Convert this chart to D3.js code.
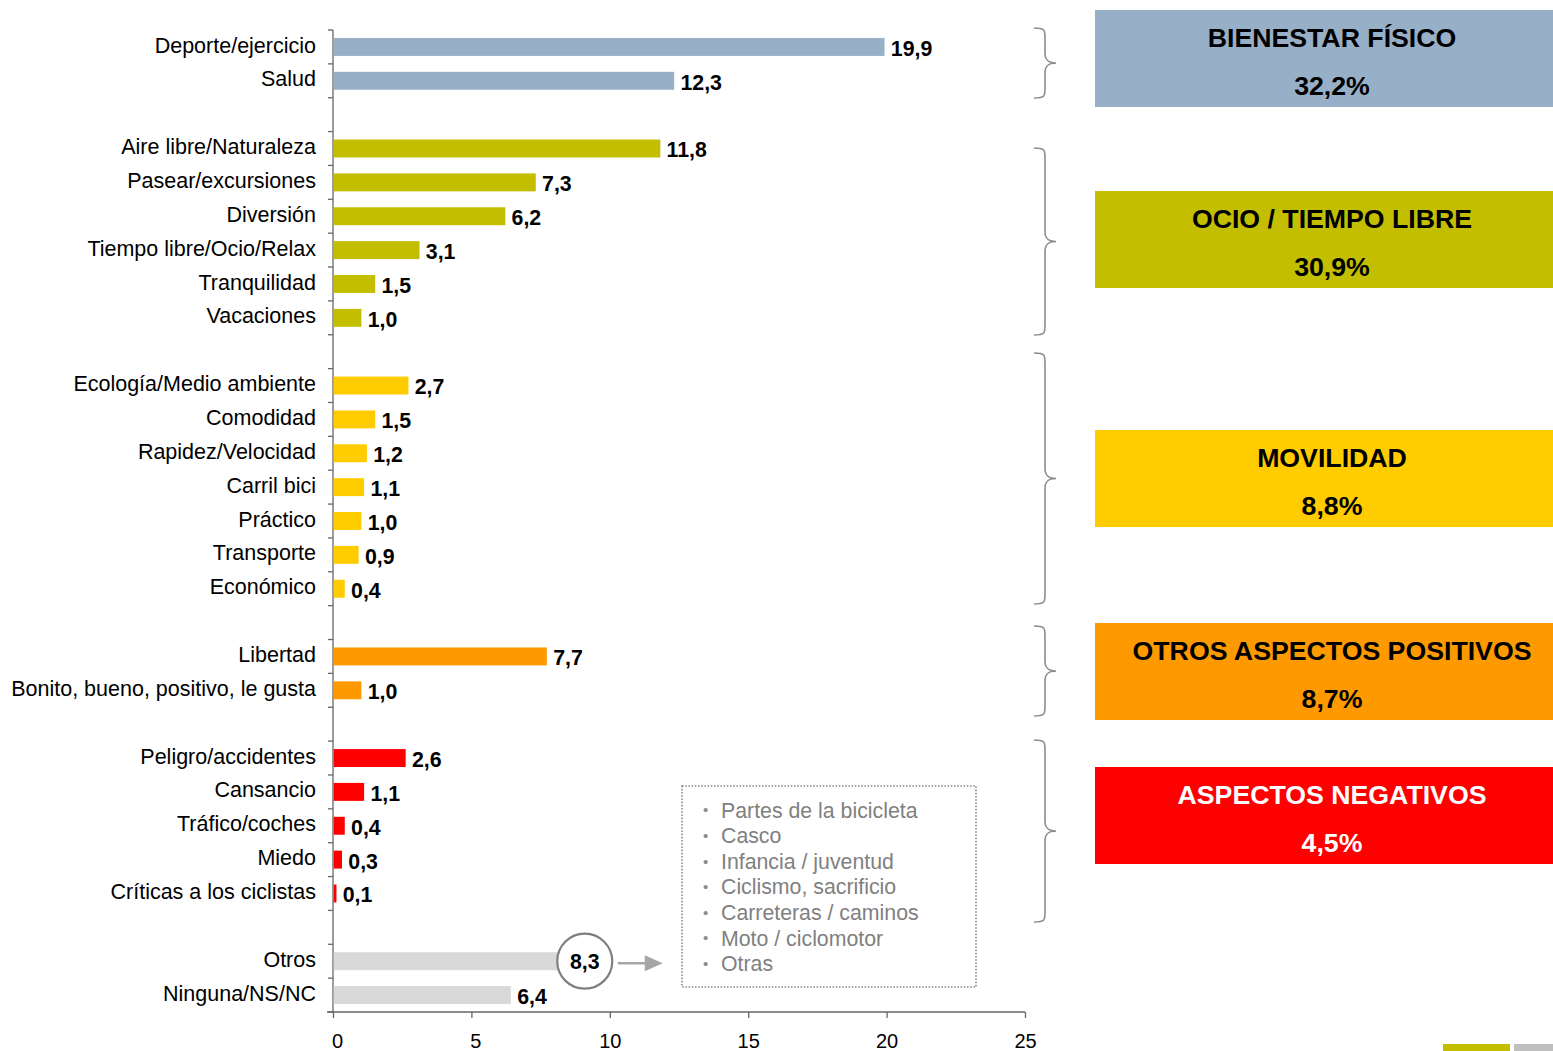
<!DOCTYPE html>
<html>
<head>
<meta charset="utf-8">
<script src="https://cdn.jsdelivr.net/npm/d3@7"></script>
<style>
  html, body { margin: 0; padding: 0; background: #fff; }
  svg { display: block; font-family: "Liberation Sans", Arial, sans-serif; }
</style>
</head>
<body>
<svg id="chart" width="1553" height="1051"></svg>
<script>
// ---------- DATA ----------
const categories = [
  "Deporte/ejercicio", "Salud",
  "Aire libre/Naturaleza", "Pasear/excursiones", "Diversión", "Tiempo libre/Ocio/Relax", "Tranquilidad", "Vacaciones",
  "Ecología/Medio ambiente", "Comodidad", "Rapidez/Velocidad", "Carril bici", "Práctico", "Transporte", "Económico",
  "Libertad", "Bonito, bueno, positivo, le gusta",
  "Peligro/accidentes", "Cansancio", "Tráfico/coches", "Miedo", "Críticas a los ciclistas",
  "Otros", "Ninguna/NS/NC"
];
const values = [
  19.9, 12.3,
  11.8, 7.3, 6.2, 3.1, 1.5, 1.0,
  2.7, 1.5, 1.2, 1.1, 1.0, 0.9, 0.4,
  7.7, 1.0,
  2.6, 1.1, 0.4, 0.3, 0.1,
  8.3, 6.4
];
const groupOf = [
  0, 0,
  1, 1, 1, 1, 1, 1,
  2, 2, 2, 2, 2, 2, 2,
  3, 3,
  4, 4, 4, 4, 4,
  5, 5
];
const groupNames = ["BIENESTAR FÍSICO", "OCIO / TIEMPO LIBRE", "MOVILIDAD", "OTROS ASPECTOS POSITIVOS", "ASPECTOS NEGATIVOS"];
const groupTotals = ["32,2%", "30,9%", "8,8%", "8,7%", "4,5%"];
const groupColors = ["#98AFC8", "#C3BE00", "#FFCC00", "#FF9900", "#FF0000", "#D9D9D9"];
const groupTextColors = ["#000", "#000", "#000", "#000", "#fff"];
const xTicks = [0, 5, 10, 15, 20, 25];
const otrosItems = ["Partes de la bicicleta", "Casco", "Infancia / juventud", "Ciclismo, sacrificio",
                    "Carreteras / caminos", "Moto / ciclomotor", "Otras"];

// ---------- LAYOUT ----------
const svg = d3.select("#chart");
const plotLeft = 333, plotRight = 1025, plotTop = 30, plotBottom = 1012;

const slots = [];
categories.forEach((c, i) => {
  if (i > 0 && groupOf[i] !== groupOf[i - 1]) slots.push("__gap" + i);
  slots.push(c);
});

const x = d3.scaleLinear().domain([0, 25]).range([plotLeft, plotRight]);
const y = d3.scaleBand().domain(slots).range([plotTop, plotBottom]).paddingInner(0.47).paddingOuter(0.235);

const loc = d3.formatLocale({decimal: ",", thousands: ".", grouping: [3], currency: ["", "€"]});
const fmt = loc.format(".1f");

// ---------- AXES ----------
const axisColor = "#666666";
const gy = svg.append("g");
gy.append("line").attr("x1", plotLeft).attr("x2", plotLeft).attr("y1", plotTop).attr("y2", plotBottom)
  .attr("stroke", axisColor).attr("stroke-width", 1.3);
const step = y.step();
d3.range(slots.length + 1).forEach(k => {
  const yy = plotTop + k * step;
  gy.append("line").attr("x1", plotLeft - 5).attr("x2", plotLeft).attr("y1", yy).attr("y2", yy)
    .attr("stroke", axisColor).attr("stroke-width", 1.3);
});

const gx = svg.append("g").attr("transform", `translate(0,${plotBottom})`)
  .call(d3.axisBottom(x).tickValues(xTicks).tickSize(6).tickSizeOuter(0).tickFormat(d3.format("d")));
gx.select(".domain").attr("stroke", axisColor).attr("stroke-width", 1.3).attr("d", `M${plotLeft - 6},0H${plotRight}`);
gx.selectAll(".tick line").attr("stroke", axisColor).attr("stroke-width", 1.3);
gx.selectAll(".tick text").attr("font-size", 20).attr("fill", "#000")
  .attr("font-family", "'Liberation Sans', Arial, sans-serif").attr("y", 22).attr("dy", "0.71em")
  .attr("dx", d => d < 10 ? 4 : 0);

// ---------- BARS ----------
const data = categories.map((c, i) => ({c, v: values[i], g: groupOf[i]}));

svg.append("g").selectAll("rect").data(data).enter().append("rect")
  .attr("x", plotLeft + 0.7)
  .attr("y", d => y(d.c))
  .attr("width", d => x(d.v) - x(0))
  .attr("height", y.bandwidth())
  .attr("fill", d => groupColors[d.g]);

svg.append("g").selectAll("text").data(data).enter().append("text")
  .attr("x", 316)
  .attr("y", d => y(d.c) + y.bandwidth() / 2)
  .attr("dy", "0.26em")
  .attr("text-anchor", "end")
  .attr("font-size", 21.5)
  .attr("fill", "#000")
  .text(d => d.c);

svg.append("g").selectAll("text").data(data.filter(d => d.c !== "Otros")).enter().append("text")
  .attr("x", d => x(d.v) + 7)
  .attr("y", d => y(d.c) + y.bandwidth() / 2)
  .attr("dy", "0.42em")
  .attr("font-size", 21.3)
  .attr("font-weight", "bold")
  .attr("fill", "#000")
  .text(d => fmt(d.v));

const otros = data.find(d => d.c === "Otros");
const cx = x(otros.v) + 22, cy = y(otros.c) + y.bandwidth() / 2;
svg.append("circle").attr("cx", cx).attr("cy", cy).attr("r", 27.5)
  .attr("fill", "#fff").attr("stroke", "#7f7f7f").attr("stroke-width", 2.2);
svg.append("text").attr("x", cx).attr("y", cy).attr("dy", "0.36em").attr("text-anchor", "middle")
  .attr("font-size", 21.3).attr("font-weight", "bold").attr("fill", "#000").text(fmt(otros.v));

svg.append("line").attr("x1", cx + 33).attr("x2", cx + 64).attr("y1", cy + 2).attr("y2", cy + 2)
  .attr("stroke", "#A6A6A6").attr("stroke-width", 2.5);
svg.append("path")
  .attr("d", `M${cx + 60},${cy - 6}L${cx + 78},${cy + 2}L${cx + 60},${cy + 10}Z`)
  .attr("fill", "#A6A6A6");

svg.append("rect").attr("x", 682).attr("y", 786).attr("width", 294).attr("height", 201)
  .attr("fill", "none").attr("stroke", "#8c8c8c").attr("stroke-width", 1.6).attr("stroke-dasharray", "1.6,1.6");
const lg = svg.append("g");
otrosItems.forEach((t, i) => {
  const yy = 810 + i * 25.6;
  lg.append("text").attr("x", 703).attr("y", yy).attr("dy", "0.36em").attr("font-size", 15)
    .attr("fill", "#8c8c8c").text("•");
  lg.append("text").attr("x", 721).attr("y", yy).attr("dy", "0.36em").attr("font-size", 21.3)
    .attr("fill", "#808080").text(t);
});

// ---------- BRACES ----------
const braces = [[28, 98], [148, 335], [353, 604], [626, 716], [740, 922]];
function bracePath(y0, y1) {
  const x0 = 1034, xm = 1045, xt = 1056, ym = (y0 + y1) / 2, r = 10;
  return `M${x0},${y0} C${xm},${y0} ${xm},${y0 + 2} ${xm},${y0 + r}` +
         ` L${xm},${ym - r} C${xm},${ym - 3} ${xm + 3},${ym} ${xt},${ym}` +
         ` C${xm + 3},${ym} ${xm},${ym + 3} ${xm},${ym + r}` +
         ` L${xm},${y1 - r} C${xm},${y1 - 2} ${xm},${y1} ${x0},${y1}`;
}
svg.append("g").selectAll("path").data(braces).enter().append("path")
  .attr("d", d => bracePath(d[0], d[1]))
  .attr("fill", "none").attr("stroke", "#8c8c8c").attr("stroke-width", 1.6);

// ---------- GROUP BOXES ----------
const boxTops = [10, 191, 430, 623, 767];
const bg = svg.append("g");
groupNames.forEach((name, i) => {
  const t = boxTops[i];
  bg.append("rect").attr("x", 1095).attr("y", t).attr("width", 470).attr("height", 97)
    .attr("fill", groupColors[i]);
  bg.append("text").attr("x", 1332).attr("y", t + 27).attr("dy", "0.36em").attr("text-anchor", "middle")
    .attr("font-size", 26.7).attr("font-weight", "bold").attr("fill", groupTextColors[i]).text(name);
  bg.append("text").attr("x", 1332).attr("y", t + 75).attr("dy", "0.36em").attr("text-anchor", "middle")
    .attr("font-size", 26.7).attr("font-weight", "bold").attr("fill", groupTextColors[i]).text(groupTotals[i]);
});

svg.append("rect").attr("x", 1443).attr("y", 1044).attr("width", 67).attr("height", 8).attr("fill", "#C3BE00");
svg.append("rect").attr("x", 1514).attr("y", 1044).attr("width", 40).attr("height", 8).attr("fill", "#BFBFBF");
</script>
</body>
</html>
